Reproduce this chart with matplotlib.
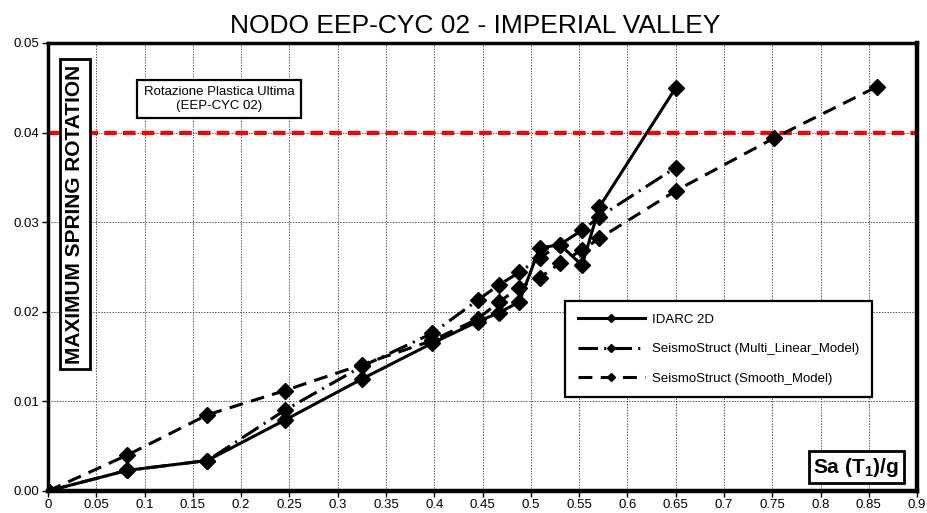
import matplotlib
matplotlib.use("Agg")
import matplotlib.pyplot as plt

plt.rcParams['font.family'] = ['Liberation Sans', 'DejaVu Sans']
plt.rcParams['mathtext.fontset'] = 'custom'
plt.rcParams['mathtext.rm'] = 'Liberation Sans'
plt.rcParams['mathtext.bf'] = 'Liberation Sans:bold'
plt.rcParams['lines.scale_dashes'] = False

# Sa(T1)/g levels of the analyses
SA = [0, 0.082, 0.165, 0.245, 0.325, 0.398, 0.445, 0.467, 0.488,
      0.509, 0.530, 0.553, 0.571, 0.650]
SA_SMOOTH = SA + [0.752, 0.858]

# maximum spring rotation
IDARC = [0, 0.0023, 0.0034, 0.0079, 0.0125, 0.0165, 0.0189, 0.0199, 0.0211,
         0.0271, 0.0275, 0.0252, 0.0317, 0.0450]
MULTI = [0, 0.0023, 0.0034, 0.0090, 0.0139, 0.0176, 0.0213, 0.0230, 0.0244,
         0.0260, 0.0275, 0.0291, 0.0306, 0.0361]
SMOOTH = [0, 0.0040, 0.0085, 0.0112, 0.0141, 0.0168, 0.0192, 0.0211, 0.0227,
          0.0238, 0.0254, 0.0269, 0.0282, 0.0335, 0.0394, 0.0451]

ULTIMATE_ROT = 0.04

LABELS = ["IDARC 2D", "SeismoStruct (Multi_Linear_Model)",
          "SeismoStruct (Smooth_Model)"]

X_TICKS = [i * 0.05 for i in range(19)]
X_TICKLABELS = ["0", "0.05", "0.1", "0.15", "0.2", "0.25", "0.3", "0.35", "0.4",
                "0.45", "0.5", "0.55", "0.6", "0.65", "0.7", "0.75", "0.8",
                "0.85", "0.9"]
Y_TICKS = [0, 0.01, 0.02, 0.03, 0.04, 0.05]
Y_TICKLABELS = ["0.00", "0.01", "0.02", "0.03", "0.04", "0.05"]

fig = plt.figure(figsize=(9.28, 5.13), dpi=100)
ax = fig.add_axes([0.0517, 0.0429, 0.9366, 0.8733])

# grid
ax.grid(True, color='#555555', linestyle=(0, (1, 1)), linewidth=0.7, zorder=0)
ax.set_axisbelow(True)

# ultimate plastic rotation
ax.axhline(ULTIMATE_ROT, color='#FF0000', linewidth=3.0, dashes=(9, 4.5), zorder=2)

mk = dict(marker='D', markersize=8.5, markerfacecolor='black',
          markeredgecolor='black', color='black', linewidth=2.2, zorder=4)

ax.plot(SA_SMOOTH, SMOOTH, dashes=(10, 6), label=LABELS[2], **mk)
ax.plot(SA, MULTI, dashes=(14, 4.5, 1.5, 4.5), label=LABELS[1], **mk)
ax.plot(SA, IDARC, linestyle='-', label=LABELS[0], **mk)

ax.set_xlim(0, 0.9)
ax.set_ylim(0, 0.05)
ax.set_xticks(X_TICKS)
ax.set_xticklabels(X_TICKLABELS)
ax.set_yticks(Y_TICKS)
ax.set_yticklabels(Y_TICKLABELS)
ax.tick_params(axis='both', direction='out', length=4, width=1, labelsize=9.5, pad=2)

for side in ['left', 'top']:
    ax.spines[side].set_linewidth(2.5)
for side in ['right', 'bottom']:
    ax.spines[side].set_linewidth(3.2)

fig.text(0.512, 0.936, "NODO EEP-CYC 02 - IMPERIAL VALLEY", fontsize=19,
         ha='center', va='baseline')

# legend in the original order
handles, labels = ax.get_legend_handles_labels()
order = [2, 1, 0]
leg = ax.legend([handles[i] for i in order], [labels[i] for i in order],
                loc='upper left', bbox_to_anchor=(0.595, 0.424),
                borderaxespad=0, fontsize=9.5, handlelength=5.1,
                handletextpad=0.55, labelspacing=1.3, borderpad=0.95,
                markerscale=0.5, numpoints=1, fancybox=False, framealpha=1,
                edgecolor='black')
leg.get_frame().set_linewidth(1.6)

# boxed axis titles
ax.text(0.031, 0.618, "MAXIMUM SPRING ROTATION", transform=ax.transAxes,
        rotation=90, ha='center', va='center', fontsize=15, fontweight='bold',
        bbox=dict(boxstyle='square,pad=0.25', facecolor='white',
                  edgecolor='black', linewidth=2.0), zorder=6)
ax.text(0.930, 0.053, r"Sa (T$_\mathbf{1}$)/g", transform=ax.transAxes,
        ha='center', va='center', fontsize=15, fontweight='bold',
        bbox=dict(boxstyle='square,pad=0.22', facecolor='white',
                  edgecolor='black', linewidth=2.0), zorder=6)

ax.text(0.197, 0.875, "Rotazione Plastica Ultima\n(EEP-CYC 02)",
        transform=ax.transAxes, ha='center', va='center', fontsize=9.5,
        linespacing=1.15,
        bbox=dict(boxstyle='square,pad=0.5', facecolor='white',
                  edgecolor='black', linewidth=1.6), zorder=6)

fig.savefig("out.png", dpi=100)
